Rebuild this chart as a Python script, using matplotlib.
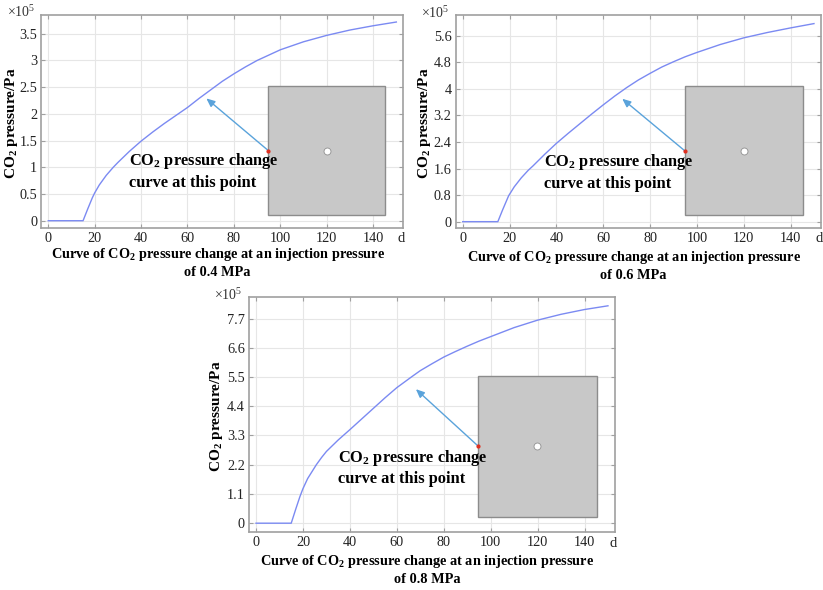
import matplotlib
matplotlib.use("Agg")
import matplotlib.pyplot as plt
from matplotlib.patches import Rectangle

plt.rcParams['font.family'] = ['Liberation Serif', 'DejaVu Serif']
plt.rcParams['mathtext.fontset'] = 'custom'
plt.rcParams['mathtext.rm'] = 'Liberation Serif'
plt.rcParams['mathtext.bf'] = 'Liberation Serif:bold'

# ---------------- data ----------------
days_04 = [0, 15, 17, 19, 20, 22, 25, 28, 30, 35, 40, 45, 50, 55, 60, 65, 70, 75, 80, 85, 90, 95, 100, 110, 120, 130, 140, 150]
pres_04 = [0, 0, 0.22, 0.43, 0.52, 0.67, 0.85, 1.00, 1.09, 1.30, 1.49, 1.66, 1.82, 1.97, 2.12, 2.29, 2.45, 2.61, 2.75, 2.88, 3.00, 3.10, 3.20, 3.35, 3.47, 3.57, 3.65, 3.72]

days_06 = [0, 15, 17, 19.6, 22, 25, 28, 30, 35, 40, 45, 50, 55, 60, 65, 70, 75, 80, 85, 90, 95, 100, 110, 120, 130, 140, 150]
pres_06 = [0, 0, 0.35, 0.78, 1.05, 1.32, 1.55, 1.68, 2.03, 2.36, 2.66, 2.95, 3.24, 3.52, 3.79, 4.04, 4.27, 4.47, 4.66, 4.82, 4.97, 5.10, 5.34, 5.54, 5.70, 5.84, 5.97]

days_08 = [0, 15, 17, 18.7, 20, 22, 25.7, 28, 30, 35, 40, 45, 50, 55, 60, 66.5, 70, 75, 80, 85, 90, 95, 100, 110, 120, 130, 140, 150]
pres_08 = [0, 0, 0.55, 1.00, 1.30, 1.68, 2.20, 2.48, 2.70, 3.13, 3.52, 3.92, 4.32, 4.72, 5.10, 5.52, 5.74, 6.00, 6.25, 6.46, 6.66, 6.85, 7.02, 7.36, 7.64, 7.86, 8.04, 8.18]

yticks_04 = [0, 0.5, 1, 1.5, 2, 2.5, 3, 3.5]
yticklabels_04 = ['0', '0.5', '1', '1.5', '2', '2.5', '3', '3.5']
yticks_06 = [0, 0.8, 1.6, 2.4, 3.2, 4.0, 4.8, 5.6]
yticklabels_06 = ['0', '0.8', '1.6', '2.4', '3.2', '4', '4.8', '5.6']
yticks_08 = [0, 1.1, 2.2, 3.3, 4.4, 5.5, 6.6, 7.7]
yticklabels_08 = ['0', '1.1', '2.2', '3.3', '4.4', '5.5', '6.6', '7.7']
xticks = [0, 20, 40, 60, 80, 100, 120, 140]
xticklabels = ['0', '20', '40', '60', '80', '100', '120', '140']

captions = [
    "Curve of CO$_\\mathbf{2}$ pressure change at an injection pressure\nof 0.4 MPa",
    "Curve of CO$_\\mathbf{2}$ pressure change at an injection pressure\nof 0.6 MPa",
    "Curve of CO$_\\mathbf{2}$ pressure change at an injection pressure\nof 0.8 MPa",
]
note_text = "CO$_\\mathbf{2}$ pressure change\ncurve at this point"
ylabel_text = "CO$_\\mathbf{2}$ pressure/Pa"

# ---------------- layout ----------------
W, H = 823, 590
fig = plt.figure(figsize=(W / 100, H / 100), dpi=100)

panels = [
    dict(rect=[41.3 / W, 1 - 228.3 / H, 362 / W, 213.6 / H], x=days_04, y=pres_04,
         ylim=(-0.142, 3.857), yt=yticks_04, ytl=yticklabels_04, cap=captions[0],
         capy=-0.083, noty=0.267, ylx=-0.081),
    dict(rect=[455.7 / W, 1 - 228.3 / H, 365.3 / W, 213 / H], x=days_06, y=pres_06,
         ylim=(-0.2, 6.22), yt=yticks_06, ytl=yticklabels_06, cap=captions[1],
         capy=-0.098, noty=0.263, ylx=-0.086),
    dict(rect=[249 / W, 1 - 531.7 / H, 366 / W, 234.4 / H], x=days_08, y=pres_08,
         ylim=(-0.32, 8.5), yt=yticks_08, ytl=yticklabels_08, cap=captions[2],
         capy=-0.09, noty=0.274, ylx=-0.09),
]

line_color = '#7b8af2'
grid_color = '#e6e6e6'
spine_color = '#a0a0a0'

for p in panels:
    ax = fig.add_axes(p['rect'])
    ax.plot(p['x'], p['y'], color=line_color, lw=1.0, zorder=3)
    ax.set_xlim(-3, 153)
    ax.set_ylim(*p['ylim'])
    ax.set_xticks(xticks)
    ax.set_xticklabels(xticklabels)
    ax.set_yticks(p['yt'])
    ax.set_yticklabels(p['ytl'])
    ax.grid(True, color=grid_color, lw=0.8, zorder=0)
    ax.set_axisbelow(True)
    for s in ax.spines.values():
        s.set_color(spine_color)
        s.set_linewidth(1.2)
    ax.tick_params(direction='in', length=3, width=0.8, color=spine_color,
                   top=True, right=True, labelsize=10.3, labelcolor='#222222', pad=3)

    # multiplier and unit
    ax.text(-0.017, 1.012, r'$\times$10$^5$', transform=ax.transAxes, ha='right', va='center',
            fontsize=10, color='#333333')
    ax.text(0.994, -0.05, 'd', transform=ax.transAxes, ha='center', va='center',
            fontsize=10.5, color='#222222')

    # axis labels
    ax.text(p['ylx'], 0.493, ylabel_text, transform=ax.transAxes, rotation=90, ha='center',
            va='center', fontsize=11, fontweight='bold')
    ax.text(0.487, p['capy'], p['cap'], transform=ax.transAxes, ha='center', va='top',
            fontsize=10.3, fontweight='bold', linespacing=1.3)

    # inset model picture
    ax.add_patch(Rectangle((0.627, 0.064), 0.323, 0.602, transform=ax.transAxes,
                           facecolor='#c8c8c8', edgecolor='#8c8c8c', lw=1.0, zorder=5))
    ax.plot([0.788], [0.364], 'o', ms=5, mfc='white', mec='#909090', mew=0.6,
            transform=ax.transAxes, zorder=6)
    ax.annotate('', xy=(0.456, 0.608), xytext=(0.627, 0.364),
                xycoords='axes fraction', textcoords='axes fraction',
                arrowprops=dict(arrowstyle='-|>,head_length=0.5,head_width=0.22',
                                color='#5aa3db', lw=1.0, shrinkA=0, shrinkB=0), zorder=7)
    ax.plot([0.627], [0.364], 'o', ms=2, color='#e03020', transform=ax.transAxes, zorder=8)
    ax.text(0.242, p['noty'], note_text, transform=ax.transAxes, ha='left', va='center',
            fontsize=11.8, fontweight='bold', linespacing=1.3, zorder=9)

fig.savefig('out.png', dpi=100)
